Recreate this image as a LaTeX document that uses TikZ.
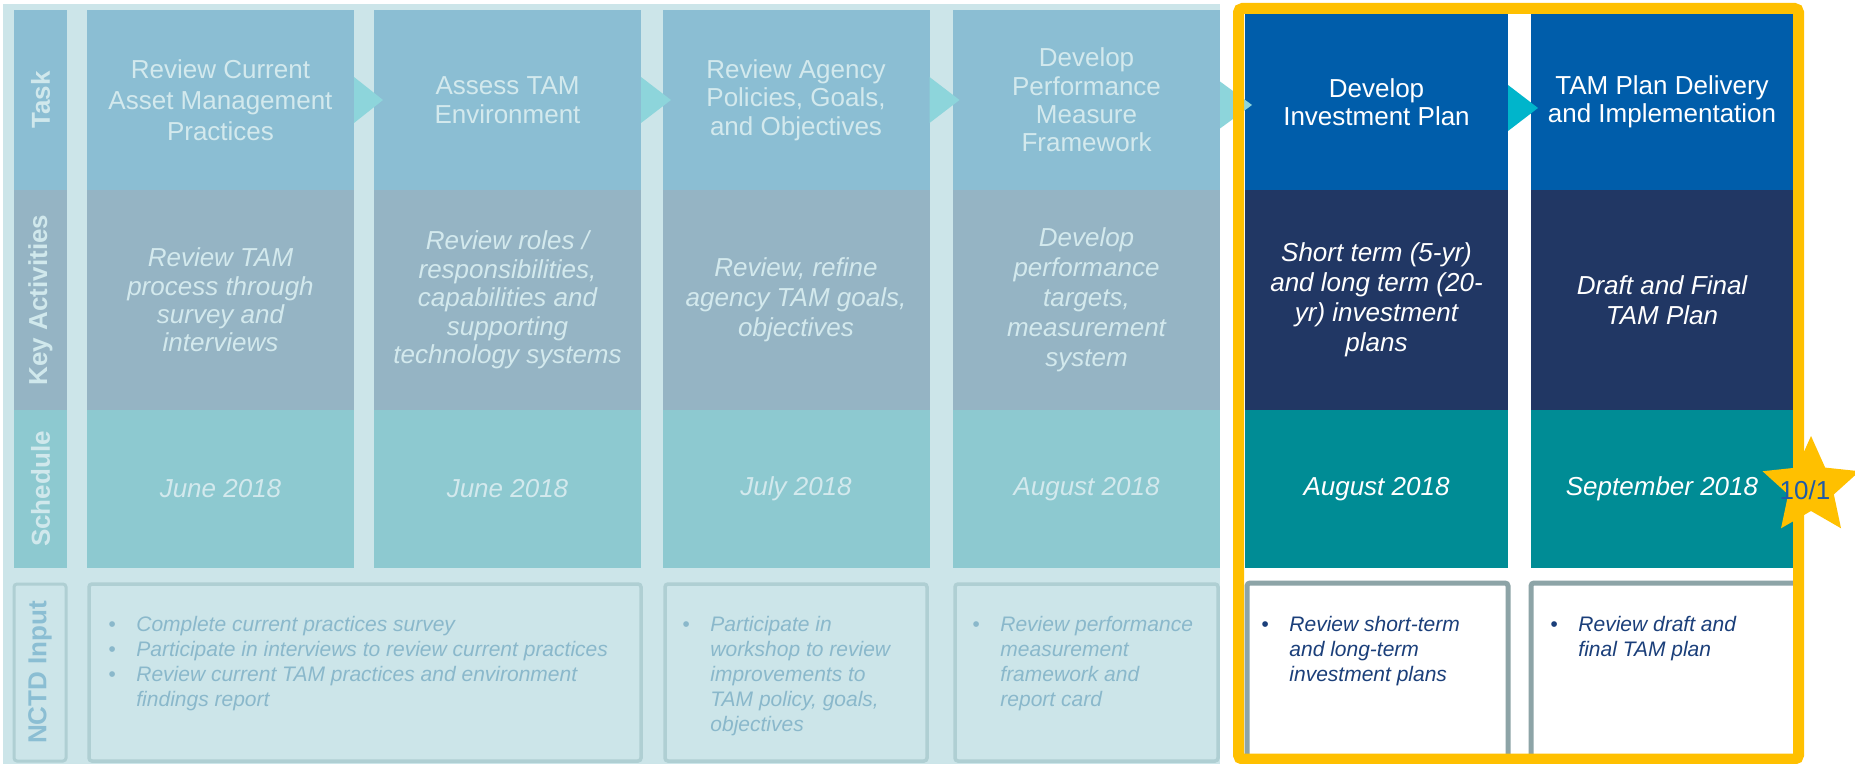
\documentclass[tikz,border=0pt]{standalone}
\usepackage{fontspec}
\setmainfont{Liberation Sans}

\definecolor{paleBg}{HTML}{CCE5E9}
\definecolor{fadeTask}{HTML}{8BBED3}
\definecolor{fadeAct}{HTML}{95B4C4}
\definecolor{fadeSched}{HTML}{8DC9D0}
\definecolor{fadeLine}{HTML}{AFCFD3}
\definecolor{fadeText}{HTML}{D3E9ED}
\definecolor{fadeInput}{HTML}{8AB8CB}
\definecolor{labelText}{HTML}{D0E8EC}
\definecolor{chevLight}{HTML}{8DD5DB}
\definecolor{chevBright}{HTML}{00B5CB}
\definecolor{tamBlue}{HTML}{005DAA}
\definecolor{tamNavy}{HTML}{213764}
\definecolor{tamTeal}{HTML}{008C95}
\definecolor{inputLine}{HTML}{8DA4A7}
\definecolor{inputText}{HTML}{1B3F7A}
\definecolor{markYellow}{HTML}{FFC000}
\definecolor{starText}{HTML}{1F5BA8}

\begin{document}
\begin{tikzpicture}[x=0.5pt , y=-0.5pt,
	cell/.style={inner sep=0pt , outer sep=0pt , align=center , minimum width=133.5pt , text=fadeText},
	taskcell/.style={cell , minimum height=90pt , fill=fadeTask , font=\fontsize{13}{14.2}\selectfont},
	actcell/.style={cell , minimum height=110pt , fill=fadeAct , font=\fontsize{13}{15}\selectfont\itshape},
	schedcell/.style={cell , minimum height=79pt , fill=fadeSched , font=\fontsize{13}{15}\selectfont\itshape},
	rowlabel/.style={inner sep=0pt , outer sep=0pt , rotate=90 , minimum height=26.5pt , text=labelText , font=\fontsize{13}{15}\selectfont\bfseries},
	inputbox/.style={draw=fadeLine , fill=paleBg , line width=1.75pt , rounded corners=1.5pt , inner sep=0pt , minimum height=88.5pt},
	inputtext/.style={anchor=north west , inner sep=0pt , align=left , text=fadeInput , font=\fontsize{10.5}{12.5}\selectfont\itshape},
	chevron/.style={fill=chevLight}
]
	\useasboundingbox (0,0) rectangle (1855,764);
	\fill [white] (0,0) rectangle (1855,764);

% FADED BACKGROUND
	\fill [paleBg] (3,4) rectangle (1220,764);

% ROW LABELS
	\node [rowlabel , fill=fadeTask , minimum width=90pt] (ltask) at (40.5,100) {Task};
	\node [rowlabel , fill=fadeAct , minimum width=110pt] (lact) at (40.5,300) {Key Activities};
	\node [rowlabel , fill=fadeSched , minimum width=79pt] (lsched) at (40.5,489) {Schedule};
	\node [rowlabel , draw=fadeLine , fill=paleBg , line width=1.5pt , rounded corners=1.5pt ,
		minimum width=88.5pt , minimum height=26pt , text=fadeTask] (linput) at (40,672.5) {NCTD Input};

% TASKS
	\node [taskcell , font=\fontsize{13}{15.4}\selectfont] (t1) at (220.5,100) {Review Current\\Asset Management\\Practices};
	\node [taskcell] (t2) at (507.5,100) {Assess TAM\\Environment};
	\node [taskcell] (t3) at (796,100) {Review Agency\\Policies, Goals,\\and Objectives};
	\node [taskcell] (t4) at (1086.5,100) {Develop\\Performance\\Measure\\Framework};

% KEY ACTIVITIES
	\node [actcell , font=\fontsize{13}{14.2}\selectfont\itshape] (a1) at (220.5,300) {Review TAM\\process through\\survey and\\interviews};
	\node [actcell , font=\fontsize{13}{14.2}\selectfont\itshape] (a2) at (507.5,300) {Review roles /\\responsibilities,\\capabilities and\\supporting\\technology systems};
	\node [actcell] (a3) at (796,300) {Review, refine\\agency TAM goals,\\objectives};
	\node [actcell] (a4) at (1086.5,300) {Develop\\performance\\targets,\\measurement\\system};

% SCHEDULE
	\node [schedcell] (s1) at (220.5,489) {June 2018};
	\node [schedcell] (s2) at (507.5,489) {June 2018};
	\node [schedcell] (s3) at (796,489) {July 2018};
	\node [schedcell] (s4) at (1086.5,489) {August 2018};

% NCTD INPUT
	\node [inputbox , minimum width=276pt] (n12) at (365,672.5) {};
	\node [inputbox , minimum width=131pt] (n3) at (796,672.5) {};
	\node [inputbox , minimum width=131.5pt] (n4) at (1086.5,672.5) {};

	\node [inputtext] (n12txt) at (108,613.5) {\begin{tabular}{@{}p{14pt}@{}l@{}}
		\textbullet & Complete current practices survey\\
		\textbullet & Participate in interviews to review current practices\\
		\textbullet & Review current TAM practices and environment\\
		& findings report
	\end{tabular}};
	\node [inputtext] (n3txt) at (682,613.5) {\begin{tabular}{@{}p{14pt}@{}l@{}}
		\textbullet & Participate in\\
		& workshop to review\\
		& improvements to\\
		& TAM policy, goals,\\
		& objectives
	\end{tabular}};
	\node [inputtext] (n4txt) at (972,613.5) {\begin{tabular}{@{}p{14pt}@{}l@{}}
		\textbullet & Review performance\\
		& measurement\\
		& framework and\\
		& report card
	\end{tabular}};

	\fill [chevron] (t1.east) ++(0,-23) -- ++(29,23) -- ++(-29,23) -- cycle;
	\fill [chevron] (t2.east) ++(0,-23) -- ++(30,23) -- ++(-30,23) -- cycle;
	\fill [chevron] (t3.east) ++(0,-23) -- ++(30,23) -- ++(-30,23) -- cycle;

% CURRENT PHASE
	\node [taskcell , fill=tamBlue , text=white , minimum width=131.5pt , minimum height=88pt] (t5) at (1376.5,102) {Develop\\Investment Plan};
	\node [taskcell , fill=tamBlue , text=white , minimum width=131pt , minimum height=88pt] (t6) at (1662,102) {TAM Plan Delivery\\and Implementation};
	\node [actcell , fill=tamNavy , text=white , minimum width=131.5pt] (a5) at (1376.5,300) {Short term (5-yr)\\and long term (20-\\yr) investment\\plans};
	\node [actcell , fill=tamNavy , text=white , minimum width=131pt] (a6) at (1662,300) {Draft and Final\\TAM Plan};
	\node [schedcell , fill=tamTeal , text=white , minimum width=131.5pt] (s5) at (1376.5,489) {August 2018};
	\node [schedcell , fill=tamTeal , text=white , minimum width=131pt] (s6) at (1662,489) {September 2018};

	\node [inputbox , draw=inputLine , fill=white , line width=2.5pt , minimum width=130.5pt , minimum height=89pt] (n5) at (1377.5,672) {};
	\node [inputbox , draw=inputLine , fill=white , line width=2.5pt , minimum width=134pt , minimum height=89pt] (n6) at (1665,672) {};
	\node [inputtext , text=inputText] (n5txt) at (1261,613.5) {\begin{tabular}{@{}p{14pt}@{}l@{}}
		\textbullet & Review short-term\\
		& and long-term\\
		& investment plans
	\end{tabular}};
	\node [inputtext , text=inputText] (n6txt) at (1550,613.5) {\begin{tabular}{@{}p{14pt}@{}l@{}}
		\textbullet & Review draft and\\
		& final TAM plan
	\end{tabular}};

	\fill [chevron] ([yshift=-2.5pt]t4.east) ++(0,-23.5) -- ++(32,23.5) -- ++(-32,23.5) -- cycle;
	\fill [chevBright] ([yshift=-3pt]t5.east) ++(0,-23) -- ++(30,23) -- ++(-30,23) -- cycle;

	\draw [markYellow , line width=5.5pt , rounded corners=2pt] (1238.5,8.5) rectangle (1798.5,759);

% DUE DATE
	\coordinate (due) at (1811,487);
	\fill [markYellow] ([shift={(-90:51)}]due) -- ([shift={(-54:24)}]due)
		-- ([shift={(-18:51)}]due) -- ([shift={(18:24)}]due)
		-- ([shift={(54:51)}]due) -- ([shift={(90:24)}]due)
		-- ([shift={(126:51)}]due) -- ([shift={(162:24)}]due)
		-- ([shift={(198:51)}]due) -- ([shift={(234:24)}]due) -- cycle;
	\node [inner sep=0pt , text=starText , font=\fontsize{13}{15}\selectfont] (duetxt) at (1805,490) {10/1};

\end{tikzpicture}
\end{document}
